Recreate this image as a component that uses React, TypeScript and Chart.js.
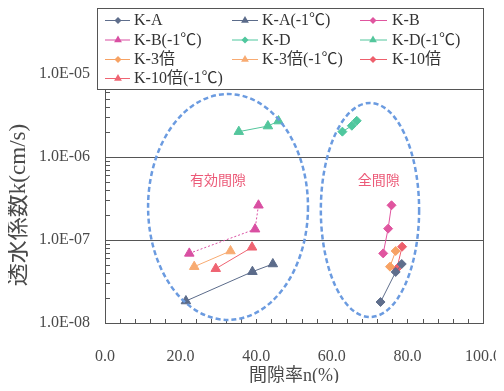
import React, { useEffect, useRef } from "react";
import { Chart, registerables } from "chart.js";

Chart.register(...registerables);

// ---- data ----
const seriesNames = [
  "K-A",
  "K-A(-1℃)",
  "K-B",
  "K-B(-1℃)",
  "K-D",
  "K-D(-1℃)",
  "K-3倍",
  "K-3倍(-1℃)",
  "K-10倍",
  "K-10倍(-1℃)",
];

const kA_n = [72.9, 76.9, 78.5];
const kA_k = [1.79e-8, 4.12e-8, 5.14e-8];
const kA1_n = [21.4, 39.0, 44.4];
const kA1_k = [1.84e-8, 4.15e-8, 5.14e-8];
const kB_n = [73.6, 74.9, 75.8];
const kB_k = [6.9e-8, 1.37e-7, 2.62e-7];
const kB1_n = [22.3, 39.7, 40.6];
const kB1_k = [6.9e-8, 1.35e-7, 2.62e-7];
const kD_n = [62.8, 65.3, 66.6];
const kD_k = [2.02e-6, 2.38e-6, 2.73e-6];
const kD1_n = [35.4, 43.1, 45.9];
const kD1_k = [2.02e-6, 2.36e-6, 2.71e-6];
const k3_n = [75.4, 76.9];
const k3_k = [4.77e-8, 7.37e-8];
const k31_n = [23.6, 33.2];
const k31_k = [4.77e-8, 7.37e-8];
const k10_n = [77.2, 78.6];
const k10_k = [4.51e-8, 8.3e-8];
const k101_n = [29.3, 38.9];
const k101_k = [4.51e-8, 8.17e-8];

const seriesN = [kA_n, kA1_n, kB_n, kB1_n, kD_n, kD1_n, k3_n, k31_n, k10_n, k101_n];
const seriesK = [kA_k, kA1_k, kB_k, kB1_k, kD_k, kD1_k, k3_k, k31_k, k10_k, k101_k];

const xTickValues = [0, 20, 40, 60, 80, 100];
const yTickValues = [1e-8, 1e-7, 1e-6, 1e-5];
const xTitle = "間隙率n(%)";
const yTitle = "透水係数k(cm/s)";

// annotated regions (data units)
const regionLabels = ["有効間隙", "全間隙"];
const regionNMin = [11.4, 57.1];
const regionNMax = [53.7, 83.1];
const regionKMin = [1.09e-8, 1.18e-8];
const regionKMax = [5.74e-6, 4.48e-6];
const regionLabelN = [29.9, 72.4];
const regionLabelK = [5.28e-7, 5.28e-7];

// ---- styles ----
const seriesColors = [
  "#5f6e8c",
  "#5b6b8a",
  "#e0559f",
  "#d94fa2",
  "#4fc79e",
  "#53c69c",
  "#f7a263",
  "#f8ab72",
  "#ee5f6c",
  "#ef6472",
];
const seriesShapes = seriesNames.map((n) => (n.includes("(-1℃)") ? "triangle" : "rectRot"));

const SERIF = "'Liberation Serif', 'Noto Sans CJK JP', serif";
const TEXT = "#4a4a4a";
const AXIS = "#555555";

function drawMarker(ctx: CanvasRenderingContext2D, shape: string, x: number, y: number, r: number) {
  ctx.beginPath();
  if (shape === "triangle") {
    ctx.moveTo(x, y - r);
    ctx.lineTo(x + r * 0.866, y + r * 0.5);
    ctx.lineTo(x - r * 0.866, y + r * 0.5);
  } else {
    ctx.moveTo(x, y - r);
    ctx.lineTo(x + r, y);
    ctx.lineTo(x, y + r);
    ctx.lineTo(x - r, y);
  }
  ctx.closePath();
  ctx.fill();
}

const overlayPlugin = {
  id: "overlay",
  afterDatasetsDraw(chart: any) {
    const ctx: CanvasRenderingContext2D = chart.ctx;
    const xs = chart.scales.x;
    const ys = chart.scales.y;
    const area = chart.chartArea;
    ctx.save();
    // right frame
    ctx.strokeStyle = AXIS;
    ctx.lineWidth = 1;
    ctx.beginPath();
    ctx.moveTo(Math.round(area.right) + 0.5, area.top);
    ctx.lineTo(Math.round(area.right) + 0.5, area.bottom);
    ctx.stroke();
    // minor ticks on x (every 4)
    ctx.beginPath();
    for (let v = 4; v < 100; v += 4) {
      const px = Math.round(xs.getPixelForValue(v)) + 0.5;
      ctx.moveTo(px, area.bottom);
      ctx.lineTo(px, area.bottom - 4);
    }
    // minor ticks on y (log)
    for (let e = -8; e < -5; e++) {
      for (let m = 2; m <= 9; m++) {
        const py = Math.round(ys.getPixelForValue(m * Math.pow(10, e))) + 0.5;
        ctx.moveTo(area.left, py);
        ctx.lineTo(area.left + 5, py);
      }
    }
    ctx.stroke();

    // ellipses
    ctx.strokeStyle = "#6b9be0";
    ctx.lineWidth = 2.5;
    ctx.setLineDash([5, 3]);
    for (let i = 0; i < regionLabels.length; i++) {
      const x0 = xs.getPixelForValue(regionNMin[i]);
      const x1 = xs.getPixelForValue(regionNMax[i]);
      const y0 = ys.getPixelForValue(regionKMax[i]);
      const y1 = ys.getPixelForValue(regionKMin[i]);
      ctx.beginPath();
      ctx.ellipse((x0 + x1) / 2, (y0 + y1) / 2, (x1 - x0) / 2, (y1 - y0) / 2, 0, 0, Math.PI * 2);
      ctx.stroke();
    }
    ctx.setLineDash([]);
    // region labels
    ctx.fillStyle = "#ec5a78";
    ctx.font = "14px 'Noto Sans CJK JP', sans-serif";
    ctx.textAlign = "center";
    ctx.textBaseline = "middle";
    for (let i = 0; i < regionLabels.length; i++) {
      ctx.fillText(regionLabels[i], xs.getPixelForValue(regionLabelN[i]), ys.getPixelForValue(regionLabelK[i]));
    }
    ctx.restore();
  },
  afterDraw(chart: any) {
    const ctx: CanvasRenderingContext2D = chart.ctx;
    const area = chart.chartArea;
    ctx.save();
    // y-axis title
    ctx.fillStyle = TEXT;
    ctx.font = "23px " + SERIF;
    ctx.textAlign = "center";
    ctx.textBaseline = "middle";
    ctx.translate(11, 197);
    ctx.rotate(-Math.PI / 2);
    ctx.fillText(yTitle, 0, 0);
    ctx.setTransform(1, 0, 0, 1, 0, 0);
    // legend
    const bx = 89.5;
    const by = 0.5;
    const bw = Math.round(area.right) - 89;
    const bh = 81;
    ctx.fillStyle = "#ffffff";
    ctx.fillRect(bx, by, bw, bh);
    ctx.strokeStyle = AXIS;
    ctx.lineWidth = 1;
    ctx.strokeRect(bx, by, bw, bh);
    const cols = [
      { l0: 97, l1: 122, m: 110, t: 126 },
      { l0: 224, l1: 250, m: 237, t: 254 },
      { l0: 352, l1: 379, m: 365, t: 384 },
    ];
    const rows = [12, 31.5, 51, 70];
    ctx.font = "16px " + SERIF;
    ctx.textBaseline = "middle";
    ctx.textAlign = "left";
    chart.data.datasets.forEach((ds: any, i: number) => {
      const c = cols[i % 3];
      const y = rows[Math.floor(i / 3)];
      ctx.strokeStyle = ds.borderColor;
      ctx.lineWidth = 1;
      ctx.beginPath();
      ctx.moveTo(c.l0, y + 0.5);
      ctx.lineTo(c.l1, y + 0.5);
      ctx.stroke();
      ctx.fillStyle = ds.backgroundColor;
      drawMarker(ctx, ds.pointStyle, c.m, y + 0.5, ds.pointStyle === "triangle" ? 4.5 : 3.5);
      ctx.fillStyle = "#333333";
      ctx.fillText(ds.label, c.t, y + 1);
    });
    ctx.restore();
  },
};

function fmtExp(v: number) {
  const e = Math.round(Math.log10(v));
  const s = String(Math.abs(e)).padStart(2, "0");
  return "1.0E" + (e < 0 ? "-" : "+") + s;
}

export default function App() {
  const ref = useRef<HTMLCanvasElement | null>(null);
  useEffect(() => {
    if (!ref.current) return;
    const datasets = seriesNames.map((name, i) => ({
      label: name,
      data: seriesN[i].map((n, j) => ({ x: n, y: seriesK[i][j] })),
      showLine: true,
      borderColor: seriesColors[i],
      backgroundColor: seriesColors[i],
      borderWidth: 1,
      borderDash: name === "K-B(-1℃)" ? [2, 2] : [],
      pointStyle: seriesShapes[i],
      pointRadius: seriesShapes[i] === "triangle" ? 5.5 : 4.5,
      pointBorderWidth: 1,
      pointBorderColor: seriesColors[i],
      pointBackgroundColor: seriesColors[i],
    }));
    const chart = new Chart(ref.current, {
      type: "scatter",
      data: { datasets },
      plugins: [overlayPlugin],
      options: {
        responsive: false,
        animation: false,
        layout: { padding: { left: 0, top: 66, right: 21, bottom: 0 } },
        plugins: { legend: { display: false }, tooltip: { enabled: false } },
        scales: {
          x: {
            type: "linear",
            min: 0,
            max: 100,
            afterBuildTicks: (s: any) => {
              s.ticks = xTickValues.map((v) => ({ value: v }));
            },
            afterFit: (s: any) => {
              s.height = 60;
              s.paddingLeft = 0;
              s.paddingRight = 0;
            },
            grid: { display: false, drawTicks: false },
            border: { display: true, color: AXIS, width: 1 },
            ticks: {
              padding: 24,
              autoSkip: false,
              maxRotation: 0,
              color: TEXT,
              font: { family: SERIF, size: 16 },
              callback: (v: any) => Number(v).toFixed(1),
            },
            title: {
              display: true,
              text: xTitle,
              color: TEXT,
              font: { family: SERIF, size: 18, lineHeight: 0.7 },
              padding: { top: 0, bottom: 0 },
            },
          },
          y: {
            type: "logarithmic",
            min: 1e-8,
            max: 1e-5,
            afterBuildTicks: (s: any) => {
              s.ticks = yTickValues.map((v) => ({ value: v, major: true }));
            },
            afterFit: (s: any) => {
              s.width = 97;
              s.paddingTop = 0;
              s.paddingBottom = 0;
            },
            grid: { display: true, color: AXIS, lineWidth: 1, drawTicks: false },
            border: { display: true, color: AXIS, width: 1 },
            ticks: {
              padding: 15,
              autoSkip: false,
              color: TEXT,
              font: { family: SERIF, size: 16 },
              callback: (v: any) => fmtExp(Number(v)),
            },
            title: { display: false, text: yTitle },
          },
        },
      } as any,
    });
    return () => chart.destroy();
  }, []);
  return (
    <div style={{ width: 496, height: 375 }}>
      <canvas ref={ref} width={496} height={375} style={{ display: "block" }} />
    </div>
  );
}
